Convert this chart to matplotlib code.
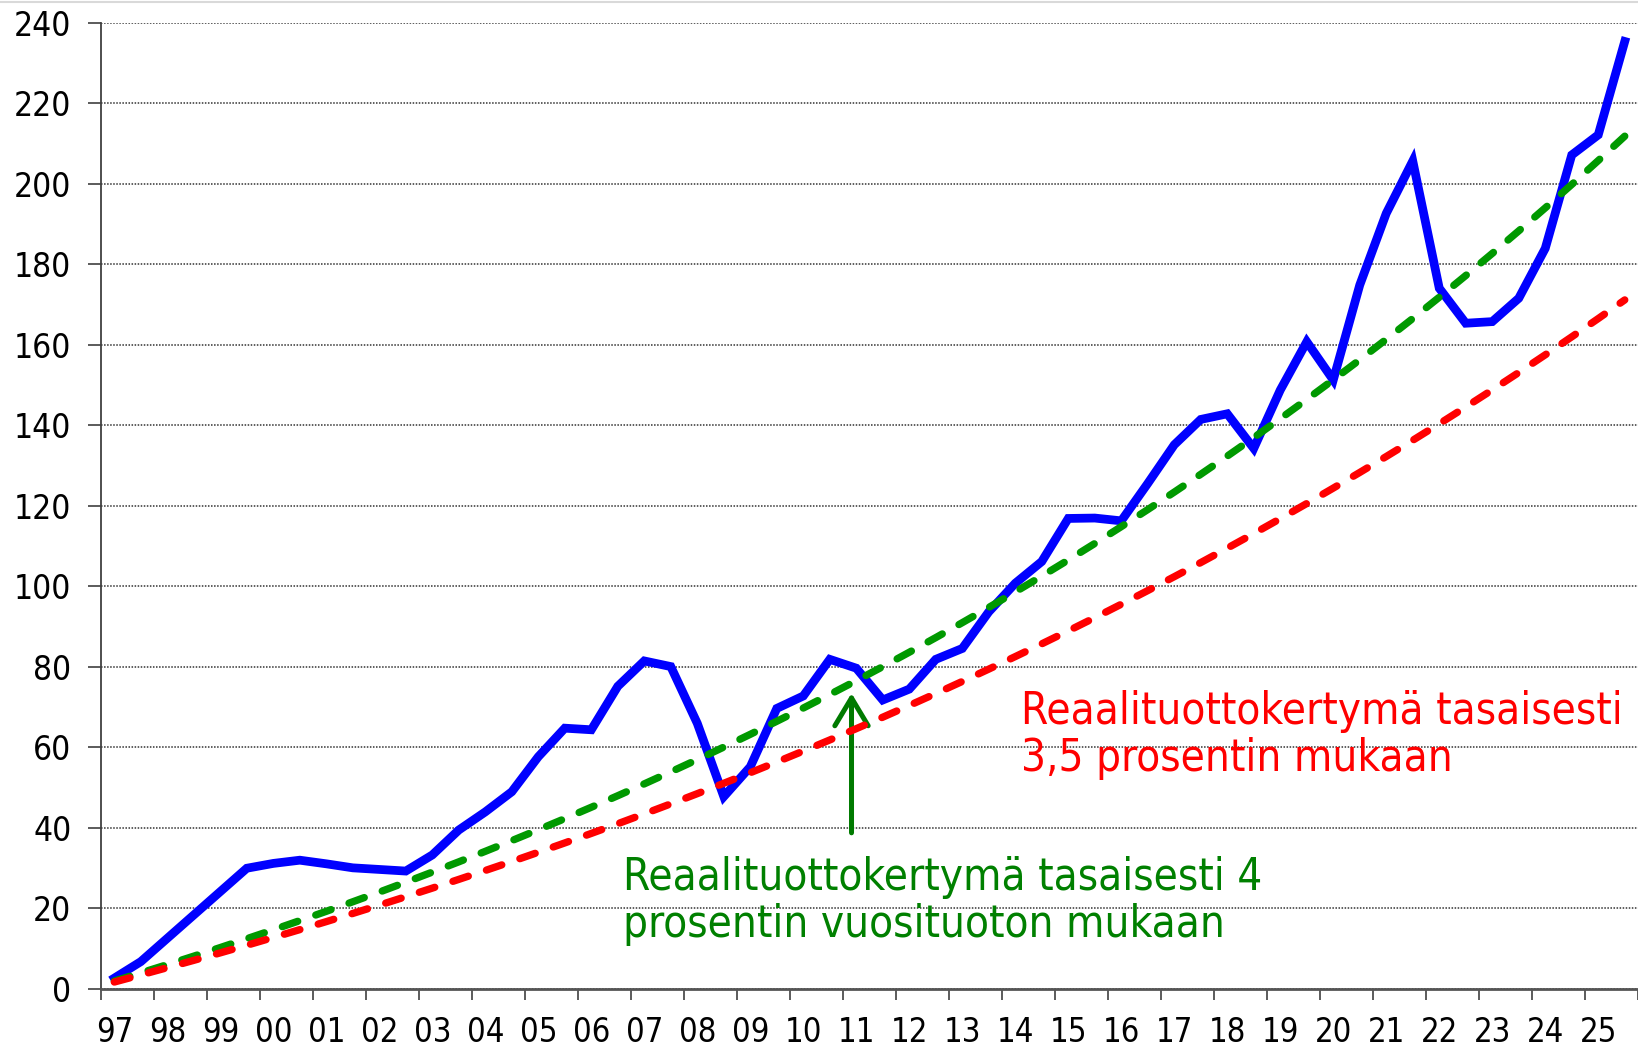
import numpy as np
import matplotlib
matplotlib.use("Agg")
import matplotlib.pyplot as plt
from matplotlib.lines import Line2D

# puolivuosittaiset havainnot 1997 H1 ... 2025 H2
year_labels = ['97', '98', '99', '00', '01', '02', '03', '04', '05', '06',
               '07', '08', '09', '10', '11', '12', '13', '14', '15', '16',
               '17', '18', '19', '20', '21', '22', '23', '24', '25']

# toteutunut reaalituottokertymä (%)
actual = [2.7, 6.8, 12.6, 18.4, 24.2, 30.0, 31.2, 32.0, 31.1, 30.1,
          29.7, 29.3, 33.3, 39.5, 44.0, 49.0, 57.7, 64.8, 64.4, 75.2,
          81.5, 80.1, 66.0, 47.8, 55.2, 69.7, 72.8, 81.9, 79.7, 71.8,
          74.5, 81.9, 84.6, 93.7, 100.8, 106.2, 116.9, 117.0, 116.3, 125.6,
          135.2, 141.5, 142.9, 134.3, 148.8, 160.8, 151.3, 174.9, 192.7, 205.7,
          174.1, 165.4, 165.8, 171.6, 184.0, 207.2, 212.2, 235.4]

# tasainen 4 % vuosituotto
even_4 = [1.98, 4.0, 6.06, 8.16, 10.30, 12.49, 14.71, 16.99, 19.30, 21.67,
          24.07, 26.53, 29.04, 31.59, 34.20, 36.86, 39.57, 42.33, 45.15, 48.02,
          50.96, 53.95, 56.99, 60.10, 63.27, 66.51, 69.80, 73.17, 76.60, 80.09,
          83.66, 87.30, 91.01, 94.79, 98.65, 102.58, 106.59, 110.68, 114.86, 119.11,
          123.45, 127.88, 132.39, 136.99, 141.69, 146.47, 151.35, 156.33, 161.41, 166.58,
          171.86, 177.25, 182.74, 188.34, 194.05, 199.87, 205.81, 211.87]

# tasainen 3,5 % vuosituotto
even_35 = [1.73, 3.5, 5.30, 7.12, 8.98, 10.87, 12.80, 14.75, 16.74, 18.77,
           20.83, 22.93, 25.06, 27.23, 29.44, 31.68, 33.97, 36.29, 38.65, 41.06,
           43.51, 46.00, 48.53, 51.11, 53.73, 56.40, 59.11, 61.87, 64.68, 67.53,
           70.44, 73.40, 76.41, 79.47, 82.58, 85.75, 88.97, 92.25, 95.59, 98.98,
           102.43, 105.94, 109.52, 113.15, 116.85, 120.61, 124.44, 128.33, 132.29, 136.32,
           140.42, 144.60, 148.84, 153.16, 157.55, 162.02, 166.56, 171.19]

y_ticks = [0, 20, 40, 60, 80, 100, 120, 140, 160, 180, 200, 220, 240]

text_red = "Reaalituottokertymä tasaisesti\n3,5 prosentin mukaan"
text_green = "Reaalituottokertymä tasaisesti 4\nprosentin vuosituoton mukaan"

plt.rcParams['font.family'] = ['DejaVu Sans']
plt.rcParams['font.stretch'] = 'condensed'


def main():
    fig = plt.figure(figsize=(16.38, 10.48), dpi=100)
    ax = fig.add_axes([0.0617, 0.0563, 0.9383, 0.9218])

    x = np.arange(len(actual))
    ax.plot(x, actual, color='#0000ff', lw=6.3, solid_joinstyle='miter', zorder=3)
    green, = ax.plot(x, even_4, color='#009900', lw=5.3, linestyle=(0, (2.2, 2.6)), zorder=4)
    red, = ax.plot(x, even_35, color='#ff0000', lw=5.3, linestyle=(0, (2.2, 2.6)), zorder=5)
    # pyöristetyt katkoviivan päät
    green.set_dash_capstyle('round')
    red.set_dash_capstyle('round')

    ax.set_xlim(-0.5, 57.06)
    ax.set_ylim(0, 240)

    # vuosien rajat tikkeinä, nimiöt vuoden ensimmäisen puoliskon kohdalla
    ax.set_xticks(np.arange(-0.5, len(actual), 2))
    ax.set_xticklabels([])
    ax.set_xticks(np.arange(0, len(actual), 2), minor=True)
    ax.set_xticklabels(year_labels, minor=True)
    ax.tick_params(axis='x', which='major', length=8, width=1.2, color='#404040', direction='out')
    ax.tick_params(axis='x', which='minor', length=0, pad=19.5, labelsize=23.5)

    ax.set_yticks(y_ticks)
    ax.tick_params(axis='y', length=9.4, width=1.2, color='#404040', pad=12, labelsize=24)

    ax.grid(axis='y', color='#333333', lw=1.1, linestyle=(0, (1, 1)))
    ax.set_axisbelow(True)
    for s in ['top', 'right']:
        ax.spines[s].set_visible(False)
    ax.spines['left'].set_color('#404040')
    ax.spines['left'].set_linewidth(1.3)
    ax.spines['bottom'].set_color('#555555')
    ax.spines['bottom'].set_linewidth(2.0)

    # baseline = alimman rivin perusviiva
    ax.text(34.2, 54.2, text_red, color='#ff0000', fontsize=31.5,
            va='baseline', ha='left', linespacing=1.12)
    ax.text(19.2, 13.0, text_green, color='#008000', fontsize=31.5,
            va='baseline', ha='left', linespacing=1.12)

    ax.annotate('', xy=(27.82, 73.5), xytext=(27.82, 38.8),
                arrowprops=dict(arrowstyle='->, head_length=1.0, head_width=0.6',
                                color='#007a00', lw=3.6, mutation_scale=20,
                                shrinkA=0, shrinkB=0))

    fig.add_artist(Line2D([0, 1], [0.998, 0.998], color='#d9d9d9', lw=1.5))

    fig.savefig('out.png', dpi=100)


if __name__ == "__main__":
    main()
